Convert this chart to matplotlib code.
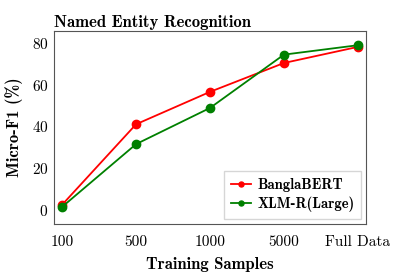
import matplotlib
matplotlib.use("Agg")
import matplotlib.pyplot as plt

plt.rcParams["font.family"] = "serif"
plt.rcParams["font.serif"] = ["cmr10", "DejaVu Serif"]
plt.rcParams["mathtext.fontset"] = "cm"
plt.rcParams["axes.formatter.use_mathtext"] = True

samples = ["100", "500", "1000", "5000", "Full Data"]
bangla_bert = [2.5, 41.0, 56.5, 70.3, 78.0]
xlm_r_large = [1.5, 31.5, 48.8, 74.3, 78.8]

fig = plt.figure(figsize=(3.99, 2.76), dpi=100)
ax = fig.add_axes([54/399, 1-224/276, 312/399, 193/276])

x = range(len(samples))
ax.plot(x, bangla_bert, color="red", marker="o", markersize=6, lw=1.3, label="BanglaBERT")
ax.plot(x, xlm_r_large, color="green", marker="o", markersize=6, lw=1.3, label="XLM-R(Large)")

ax.set_xticks(list(x))
ax.set_xticklabels(samples)
ax.set_yticks([0, 20, 40, 60, 80])
ax.set_xlim(-0.11, 4.11)
ax.set_ylim(-6.7, 85.6)
ax.tick_params(length=0, labelsize=11)
ax.tick_params(axis="x", pad=8)
ax.tick_params(axis="y", pad=4)
for s in ax.spines.values():
    s.set_color("#555555")

bold = {"family": "cmb10", "size": 12}
ax.set_title("Named Entity Recognition", loc="left", fontdict=bold, pad=3)
ax.set_xlabel("Training Samples", fontdict=bold, labelpad=6)
ax.set_ylabel("Micro-F1 (%)", fontdict=bold, labelpad=6)

leg = ax.legend(loc="lower right", fancybox=False, prop={"family": "cmb10", "size": 10.5},
                markerscale=0.6, handlelength=1.4, handletextpad=0.4,
                borderpad=0.45, labelspacing=0.35, borderaxespad=0.35)
leg.get_frame().set_edgecolor("#cccccc")

fig.savefig("out.png", dpi=100)
